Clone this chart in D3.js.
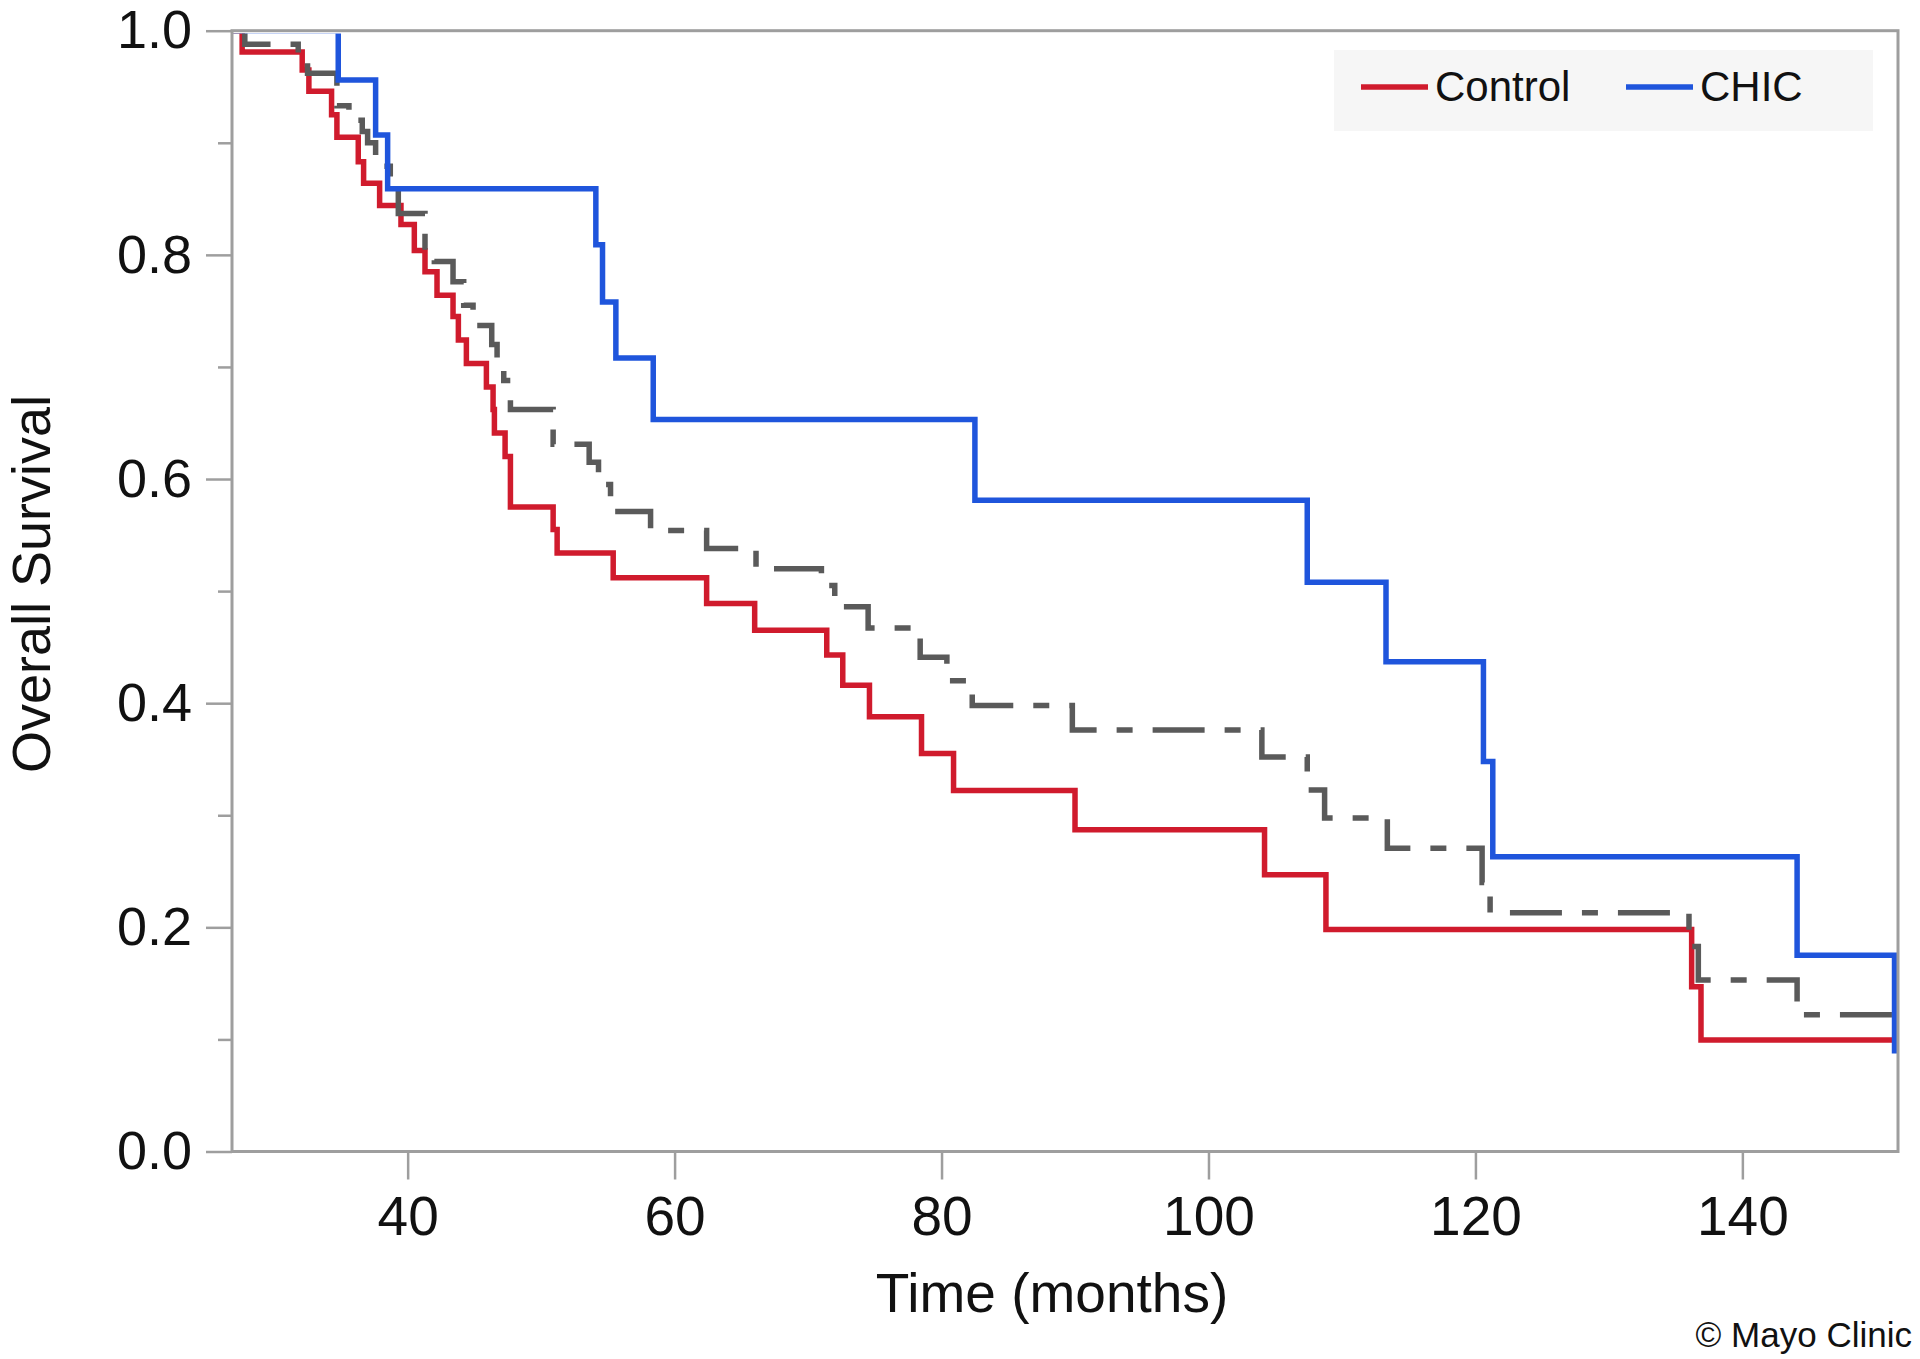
<!DOCTYPE html>
<html>
<head>
<meta charset="utf-8">
<script src="https://cdn.jsdelivr.net/npm/d3@7"></script>
<style>
  html, body { margin: 0; padding: 0; background: #fff; }
  svg { display: block; }
  text { font-family: "Liberation Sans", Arial, sans-serif; fill: #111; }
</style>
</head>
<body>
<svg id="chart" width="1920" height="1359"></svg>
<script>
// ---- data ----
const xDomain = [26.84, 151.66];
const xTicks = [40, 60, 80, 100, 120, 140];
const yTicks = [0, 0.2, 0.4, 0.6, 0.8, 1.0];
const yMinorTicks = [0.1, 0.3, 0.5, 0.7, 0.9];

const controlTimes = [27.6, 32.1, 32.6, 34.3, 34.7, 36.3, 36.7, 37.9, 39.5, 40.5, 41.3, 42.2, 43.4, 43.8, 44.4, 45.9, 46.4, 46.5, 47.3, 47.7, 50.9, 51.2, 55.4, 62.4, 66.0, 71.4, 72.6, 74.6, 78.5, 80.9, 90.0, 104.2, 108.8, 136.2, 136.9];
const controlSurv  = [0.981, 0.965, 0.946, 0.925, 0.905, 0.883, 0.864, 0.844, 0.827, 0.804, 0.785, 0.764, 0.745, 0.724, 0.703, 0.682, 0.662, 0.641, 0.620, 0.575, 0.555, 0.534, 0.512, 0.489, 0.465, 0.443, 0.416, 0.388, 0.355, 0.322, 0.287, 0.247, 0.198, 0.147, 0.0995];

const chicTimes = [34.8, 37.6, 38.5, 54.1, 54.6, 55.6, 58.4, 82.5, 107.4, 113.3, 120.6, 121.3, 144.1, 151.4];
const chicSurv  = [0.956, 0.907, 0.859, 0.809, 0.758, 0.708, 0.653, 0.581, 0.508, 0.437, 0.348, 0.263, 0.175, 0.09];

const allTimes = [27.8, 31.8, 32.5, 34.7, 35.6, 36.6, 37.0, 37.6, 38.7, 39.3, 41.3, 42.0, 43.4, 44.2, 44.9, 46.3, 46.7, 47.2, 47.7, 50.9, 53.6, 54.3, 55.2, 58.2, 62.4, 66.1, 71.0, 72.0, 74.5, 78.4, 80.4, 82.3, 89.8, 104.0, 107.4, 108.7, 113.4, 120.5, 121.1, 136.0, 136.7, 144.1];
const allSurv  = [0.988, 0.975, 0.962, 0.933, 0.920, 0.910, 0.900, 0.879, 0.858, 0.837, 0.807, 0.794, 0.776, 0.755, 0.737, 0.720, 0.703, 0.688, 0.662, 0.631, 0.615, 0.595, 0.571, 0.554, 0.538, 0.520, 0.505, 0.486, 0.467, 0.441, 0.420, 0.398, 0.376, 0.352, 0.3225, 0.2975, 0.2705, 0.240, 0.213, 0.183, 0.153, 0.122];

const legendNames = ["Control", "CHIC"];
const xTitle = "Time (months)";
const yTitle = "Overall Survival";
const credit = "© Mayo Clinic";

// ---- layout ----
const plot = { left: 232, right: 1898, top: 30.7, bottom: 1151.5 };
const axisColor = "#9e9e9e";
const colors = { control: "#d01b2d", chic: "#1f55dc", all: "#5a5a5a" };

const svg = d3.select("#chart");
const x = d3.scaleLinear().domain(xDomain).range([plot.left, plot.right]);
const y = d3.scaleLinear().domain([0, 1]).range([plot.bottom, plot.top]);

// clip so that the 1.0 segments hide under the top frame, as in the reference
svg.append("defs").append("clipPath").attr("id", "plotClip")
  .append("rect")
  .attr("x", plot.left).attr("y", plot.top + 2.8)
  .attr("width", plot.right - plot.left).attr("height", plot.bottom - plot.top - 2.8);

function kmPoints(times, surv) {
  const pts = [[xDomain[0], 1]];
  times.forEach((t, i) => pts.push([t, surv[i]]));
  pts.push([xDomain[1], surv[surv.length - 1]]);
  return pts;
}
const line = d3.line().x(d => x(d[0])).y(d => y(d[1])).curve(d3.curveStepAfter);

const curves = svg.append("g").attr("clip-path", "url(#plotClip)");
curves.append("path")
  .attr("d", line(kmPoints(controlTimes, controlSurv)))
  .attr("fill", "none").attr("stroke", colors.control).attr("stroke-width", 5.5);
curves.append("path")
  .attr("d", line(kmPoints(allTimes, allSurv)))
  .attr("fill", "none").attr("stroke", colors.all).attr("stroke-width", 5.5)
  .attr("stroke-dasharray", "52 20 16 20");
curves.append("path")
  .attr("d", line(kmPoints(chicTimes, chicSurv)))
  .attr("fill", "none").attr("stroke", colors.chic).attr("stroke-width", 5.5);

// frame
svg.append("rect")
  .attr("x", plot.left).attr("y", plot.top)
  .attr("width", plot.right - plot.left).attr("height", plot.bottom - plot.top)
  .attr("fill", "none").attr("stroke", axisColor).attr("stroke-width", 3);

// y axis
const yAxis = svg.append("g").attr("transform", `translate(${plot.left},0)`)
  .call(d3.axisLeft(y).tickValues(yTicks).tickFormat(d3.format(".1f")).tickSize(26).tickPadding(14));
yAxis.select(".domain").remove();
yAxis.selectAll(".tick line").attr("stroke", axisColor).attr("stroke-width", 2.5);
yAxis.selectAll(".tick text").style("font-size", "54px").attr("fill", "#111");

const yMinor = svg.append("g").attr("transform", `translate(${plot.left},0)`)
  .call(d3.axisLeft(y).tickValues(yMinorTicks).tickFormat("").tickSize(14));
yMinor.select(".domain").remove();
yMinor.selectAll(".tick line").attr("stroke", axisColor).attr("stroke-width", 2.5);

// x axis
const xAxis = svg.append("g").attr("transform", `translate(0,${plot.bottom})`)
  .call(d3.axisBottom(x).tickValues(xTicks).tickFormat(d3.format("d")).tickSize(28).tickPadding(16));
xAxis.select(".domain").remove();
xAxis.selectAll(".tick line").attr("stroke", axisColor).attr("stroke-width", 2.5);
xAxis.selectAll(".tick text").style("font-size", "55px").attr("fill", "#111");

// axis titles
svg.append("text").attr("x", 1052).attr("y", 1312).attr("text-anchor", "middle")
  .style("font-size", "55px").text(xTitle);
svg.append("text").attr("transform", "translate(50,584) rotate(-90)").attr("text-anchor", "middle")
  .style("font-size", "54px").text(yTitle);

// legend
const lg = svg.append("g");
lg.append("rect").attr("x", 1334).attr("y", 50).attr("width", 539).attr("height", 81).attr("fill", "#f6f6f6");
const legendItems = [
  { name: legendNames[0], color: colors.control, x0: 1361 },
  { name: legendNames[1], color: colors.chic, x0: 1626 }
];
legendItems.forEach(it => {
  lg.append("line").attr("x1", it.x0).attr("x2", it.x0 + 67).attr("y1", 87).attr("y2", 87)
    .attr("stroke", it.color).attr("stroke-width", 5.5);
  lg.append("text").attr("x", it.x0 + 74).attr("y", 101).style("font-size", "42px").text(it.name);
});

// credit
svg.append("text").attr("x", 1912).attr("y", 1347).attr("text-anchor", "end")
  .style("font-size", "35px").text(credit);
</script>
</body>
</html>
